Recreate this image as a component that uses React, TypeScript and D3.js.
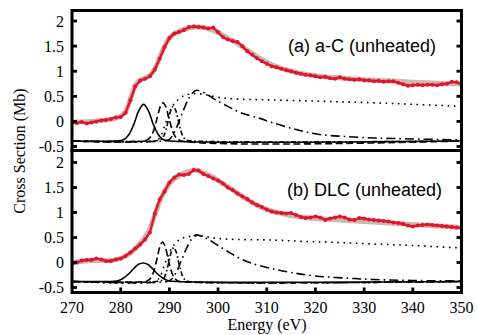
import React from 'react';
import * as d3 from 'd3';

// energies of the measured points (1 eV step)
const energies = d3.range(270, 351);

// (a) a-C measured cross section, Mb
const dataA = [
  -0.02, -0.03, -0.01, -0.04, -0.02, 0.0, 0.02, 0.03, 0.05, 0.08,
  0.09, 0.17, 0.42, 0.7, 0.81, 0.85, 0.9, 1.03, 1.25, 1.48,
  1.66, 1.75, 1.78, 1.82, 1.88, 1.89, 1.88, 1.87, 1.85, 1.87,
  1.78, 1.68, 1.63, 1.6, 1.58, 1.5, 1.4, 1.33, 1.26, 1.2,
  1.15, 1.1, 1.08, 1.05, 1.02, 1.0, 0.97, 0.95, 0.93, 0.92,
  0.9, 0.88, 0.89, 0.86, 0.85, 0.88, 0.85, 0.84, 0.83, 0.84,
  0.82, 0.82, 0.8, 0.81, 0.79, 0.8, 0.8, 0.77, 0.74, 0.71,
  0.72, 0.73, 0.72, 0.73, 0.73, 0.72, 0.74, 0.75, 0.79, 0.78,
  0.74,
];

// (b) DLC measured cross section, Mb
const dataB = [
  -0.03, 0.0, 0.04, 0.05, 0.05, 0.08, 0.06, 0.03, 0.03, 0.06,
  0.08, 0.13, 0.2, 0.28, 0.36, 0.46, 0.6, 0.98, 1.26, 1.42,
  1.6, 1.7, 1.76, 1.75, 1.77, 1.85, 1.84, 1.77, 1.73, 1.68,
  1.64, 1.58, 1.5, 1.45, 1.38, 1.32, 1.27, 1.2, 1.15, 1.11,
  1.06, 1.02, 1.0, 0.99, 0.98, 0.99, 0.95, 0.91, 0.89, 0.9,
  0.92, 0.9, 0.85, 0.88, 0.9, 0.92, 0.9, 0.86, 0.85, 0.89,
  0.88, 0.86, 0.85, 0.84, 0.83, 0.82, 0.8, 0.79, 0.77, 0.74,
  0.72, 0.74, 0.75, 0.76, 0.75, 0.74, 0.73, 0.72, 0.71, 0.7,
  0.69,
];

// fitted sum (grey band), [energy, value]
const fitA: [number, number][] = [
  [270, -0.01], [274, 0.0], [278, 0.04], [280, 0.1], [281, 0.2], [282, 0.45], [283, 0.72],
  [284, 0.83], [285, 0.86], [286, 0.92], [287, 1.05], [288, 1.27], [289, 1.5], [290, 1.66],
  [291, 1.75], [292, 1.8], [294, 1.86], [296, 1.88], [298, 1.85], [300, 1.77], [302, 1.66],
  [304, 1.55], [306, 1.42], [308, 1.29], [310, 1.18], [312, 1.09], [315, 1.0], [318, 0.94],
  [322, 0.89], [326, 0.86], [330, 0.83], [335, 0.81], [340, 0.78], [345, 0.76], [350, 0.75],
];
const fitB: [number, number][] = [
  [270, 0.0], [274, 0.04], [278, 0.04], [280, 0.08], [282, 0.19], [284, 0.38], [285, 0.5],
  [286, 0.68], [287, 0.95], [288, 1.22], [289, 1.42], [290, 1.58], [292, 1.74], [294, 1.82],
  [295.5, 1.85], [297, 1.79], [299, 1.7], [301, 1.58], [303, 1.45], [305, 1.32], [307, 1.2],
  [309, 1.1], [311, 1.03], [314, 0.96], [317, 0.91], [320, 0.88], [325, 0.85], [330, 0.82],
  [335, 0.79], [340, 0.76], [345, 0.73], [350, 0.7],
];

// fit components for (a), offset to the -0.39 baseline
const peak1A: [number, number][] = [
  [270, -0.39], [279.7, -0.385], [280.7, -0.36], [281.7, -0.26], [282.7, -0.06], [283.7, 0.21],
  [284.7, 0.34], [285.7, 0.21], [286.7, -0.06], [287.7, -0.26], [288.7, -0.36], [289.7, -0.385], [350, -0.39],
];
const peak2A: [number, number][] = [
  [270, -0.39], [285.2, -0.38], [286.2, -0.3], [286.7, -0.2], [287.2, -0.04], [287.7, 0.15], [288.2, 0.31],
  [288.7, 0.37], [289.2, 0.31], [289.7, 0.15], [290.2, -0.04], [290.7, -0.2], [291.2, -0.3], [292.2, -0.38], [350, -0.39],
];
const peak3A: [number, number][] = [
  [270, -0.39], [287.8, -0.38], [288.3, -0.36], [288.8, -0.3], [289.3, -0.17], [289.8, 0.03], [290.3, 0.22],
  [290.8, 0.3], [291.3, 0.22], [291.8, 0.03], [292.3, -0.17], [292.8, -0.3], [293.3, -0.36], [293.8, -0.38], [350, -0.39],
];
const stepA: [number, number][] = [
  [270, -0.39], [287, -0.39], [288, -0.33], [289, -0.1], [290, 0.18], [291, 0.35], [292, 0.45], [293, 0.51],
  [294, 0.54], [296, 0.55], [298, 0.52], [300, 0.48], [303, 0.45], [310, 0.43], [318, 0.41], [325, 0.39],
  [332, 0.37], [340, 0.34], [350, 0.3],
];
const broadA: [number, number][] = [
  [270, -0.39], [289, -0.39], [290, -0.36], [291, -0.22], [292, 0.0], [293, 0.25], [294, 0.46], [295, 0.59],
  [295.6, 0.62], [296.5, 0.6], [298, 0.52], [299.5, 0.43], [302, 0.3], [304.5, 0.18], [308.6, 0.06],
  [311, -0.02], [314.8, -0.13], [318, -0.21], [321.6, -0.27], [326, -0.3], [332, -0.33], [340, -0.35], [350, -0.37],
];

// fit components for (b), baseline -0.38
const peak1B: [number, number][] = [
  [270, -0.38], [278.6, -0.376], [279.6, -0.36], [280.6, -0.31], [281.6, -0.23], [282.6, -0.13], [283.6, -0.04],
  [284.6, -0.01], [285.6, -0.04], [286.6, -0.13], [287.6, -0.23], [288.6, -0.31], [289.6, -0.36], [290.6, -0.376], [350, -0.38],
];
const peak2B: [number, number][] = [
  [270, -0.38], [285.1, -0.38], [285.6, -0.36], [286.1, -0.32], [286.6, -0.23], [287.1, -0.07], [287.6, 0.14],
  [288.1, 0.33], [288.6, 0.41], [289.1, 0.33], [289.6, 0.14], [290.1, -0.07], [290.6, -0.23], [291.1, -0.32],
  [291.6, -0.36], [292.1, -0.38], [350, -0.38],
];
const peak3B: [number, number][] = [
  [270, -0.38], [288.4, -0.36], [288.9, -0.31], [289.4, -0.18], [289.9, 0.01], [290.4, 0.21], [290.9, 0.3],
  [291.4, 0.21], [291.9, 0.01], [292.4, -0.18], [292.9, -0.31], [293.4, -0.36], [293.9, -0.38], [350, -0.38],
];
const stepB: [number, number][] = [
  [270, -0.38], [287, -0.38], [288, -0.3], [289, -0.05], [290, 0.2], [291, 0.36], [292, 0.45], [293, 0.5],
  [294, 0.52], [296, 0.53], [298, 0.51], [300, 0.48], [304, 0.46], [311, 0.45], [318, 0.42], [325, 0.4],
  [332, 0.37], [340, 0.34], [350, 0.29],
];
const broadB: [number, number][] = [
  [270, -0.38], [289.5, -0.38], [290.5, -0.33], [291.5, -0.18], [292.5, 0.05], [293.5, 0.28], [294.5, 0.46],
  [295.4, 0.55], [296.5, 0.53], [298, 0.46], [300, 0.34], [302, 0.22], [304.5, 0.08], [307, -0.02],
  [311, -0.12], [315, -0.2], [320, -0.27], [326, -0.31], [332, -0.34], [340, -0.36], [350, -0.37],
];

const yTicks = [-0.5, 0, 0.5, 1, 1.5, 2];
const xTicks = [270, 280, 290, 300, 310, 320, 330, 340, 350];

const W = 477;
const H = 335;
const left = 72;
const right = 461.5;
const red = '#e3132f';
const tan = '#cbb9ab';
const serif = "'Liberation Serif', 'Times New Roman', serif";

const x = d3.scaleLinear().domain([270, 350]).range([left, right]);

const panels = [
  { id: 'a', top: 10.5, bottom: 150.5, dom: [-0.58, 2.21], data: dataA, fit: fitA,
    comps: [peak1A, peak2A, peak3A, stepA, broadA], label: '(a) a-C (unheated)', lx: 436, ly: 52 },
  { id: 'b', top: 150.5, bottom: 292.5, dom: [-0.6, 2.24], data: dataB, fit: fitB,
    comps: [peak1B, peak2B, peak3B, stepB, broadB], label: '(b) DLC (unheated)', lx: 442, ly: 196 },
];

// solid, dashed, dash-dot, dotted, long dash-dot
const dashes = ['none', '7,3.5', '5,2.5,1.6,2.5', '1.6,4.6', '9,4,1.6,4'];

function Panel({ p }: { p: typeof panels[number] }) {
  const y = d3.scaleLinear().domain(p.dom).range([p.bottom, p.top]);
  const line = d3.line<[number, number]>().x(d => x(d[0])).y(d => y(d[1])).curve(d3.curveCatmullRom);
  const pts: [number, number][] = energies.map((e, i) => [e, p.data[i]]);
  const dataLine = d3.line<[number, number]>().x(d => x(d[0])).y(d => y(d[1]));
  return (
    <g>
      <defs>
        <clipPath id={'clip-' + p.id}>
          <rect x={left} y={p.top} width={right - left} height={p.bottom - p.top} />
        </clipPath>
      </defs>
      <g clipPath={`url(#clip-${p.id})`}>
        {p.comps.map((c, i) => (
          <path key={i} d={line(c) || ''} fill="none" stroke="#000" strokeWidth={1.6}
            strokeDasharray={dashes[i]} />
        ))}
        <path d={line(p.fit) || ''} fill="none" stroke={tan} strokeWidth={5} strokeLinecap="round" />
        <path d={dataLine(pts) || ''} fill="none" stroke={red} strokeWidth={2.4} />
        {pts.map((d, i) => (
          <circle key={i} cx={x(d[0])} cy={y(d[1])} r={2} fill={red} />
        ))}
      </g>
      {yTicks.map(t => (
        <g key={t}>
          <line x1={left} x2={left + 5} y1={y(t)} y2={y(t)} stroke="#000" strokeWidth={2.8} />
          <line x1={right - 5} x2={right} y1={y(t)} y2={y(t)} stroke="#000" strokeWidth={2.8} />
          <text x={64} y={y(t) + 5.5} textAnchor="end" fontSize={16} fill="#000"
            fontFamily={serif}>{String(t)}</text>
        </g>
      ))}
      <rect x={left} y={p.top} width={right - left} height={p.bottom - p.top} fill="none"
        stroke="#000" strokeWidth={3} />
      <text x={p.lx} y={p.ly} textAnchor="end" fontSize={18} fill="#000"
        fontFamily="'Liberation Sans', Arial, Helvetica, sans-serif">{p.label}</text>
    </g>
  );
}

export default function App() {
  const bottom = panels[1].bottom;
  return (
    <svg width={W} height={H} style={{ position: 'absolute', left: 0, top: 0, background: '#fff' }}>
      {panels.map(p => <Panel key={p.id} p={p} />)}
      {xTicks.map(t => (
        <g key={t}>
          {t > 270 && t < 350 && (
            <line x1={x(t)} x2={x(t)} y1={bottom} y2={bottom - 5} stroke="#000" strokeWidth={2.8} />
          )}
          <text x={x(t)} y={313} textAnchor="middle" fontSize={16} fill="#000"
            fontFamily={serif}>{t}</text>
        </g>
      ))}
      <text x={267} y={330} textAnchor="middle" fontSize={16} fill="#000"
        fontFamily={serif}>Energy (eV)</text>
      <text transform="translate(25,151) rotate(-90)" textAnchor="middle" fontSize={16} fill="#000"
        fontFamily={serif}>Cross Section (Mb)</text>
    </svg>
  );
}
